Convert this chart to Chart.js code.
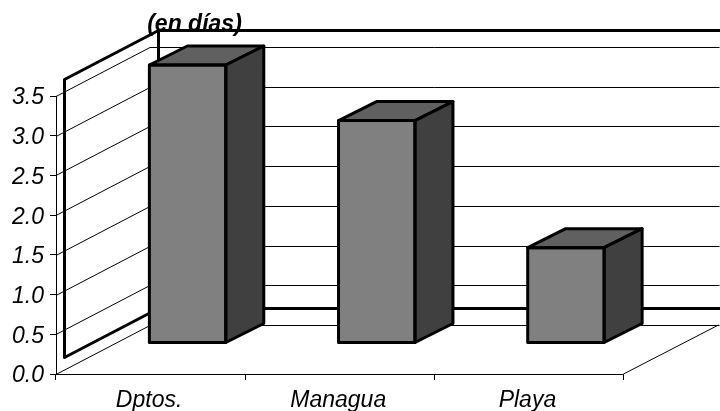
<!DOCTYPE html>
<html>
<head>
<meta charset="utf-8">
<script src="https://cdn.jsdelivr.net/npm/chart.js@4"></script>
<style>
  html, body { margin: 0; background: #fff; }
  canvas { display: block; }
</style>
</head>
<body>
<canvas id="chart" width="720" height="411"></canvas>
<script>
const categories = ["Dptos.", "Managua", "Playa"];
const dias = [3.5, 2.8, 1.2];
const yTicks = [0, 0.5, 1, 1.5, 2, 2.5, 3, 3.5];
const chartTitle = "(en días)";

// how far the 3d box is pushed back
const wallDx = 94, wallDy = -49;
const frameDx = 8.5, frameDy = -16.5;
const barDx = 37, barDy = -31;
const sideDx = 38, sideDy = -19;

const fakeDepth = {
  id: 'fakeDepth',
  beforeDatasetsDraw(chart) {
    const { ctx, scales: { x, y } } = chart;
    const left = x.left, right = x.right, zero = y.getPixelForValue(0);
    const endX = 719.5;
    ctx.save();
    ctx.strokeStyle = '#000';
    ctx.lineWidth = 1;

    // floor and gridlines on both walls
    ctx.beginPath();
    yTicks.forEach(t => {
      const py = Math.round(y.getPixelForValue(t)) + 0.5;
      ctx.moveTo(left, py);
      ctx.lineTo(left + wallDx, py + wallDy);
      ctx.lineTo(endX, py + wallDy);
    });
    ctx.moveTo(right, zero);
    ctx.lineTo(right + wallDx + 1, zero + wallDy);
    ctx.stroke();

    // thick outline of the plot
    const top = y.getPixelForValue(3.5);
    ctx.lineWidth = 3;
    ctx.lineJoin = 'round';
    ctx.beginPath();
    ctx.moveTo(720, top + wallDy + frameDy);
    ctx.lineTo(left + frameDx + wallDx, top + wallDy + frameDy);
    ctx.lineTo(left + frameDx, top + frameDy);
    ctx.lineTo(left + frameDx, zero + frameDy);
    ctx.lineTo(left + frameDx + wallDx, zero + wallDy + frameDy);
    ctx.lineTo(720, zero + wallDy + frameDy);
    ctx.moveTo(left + frameDx + wallDx, top + wallDy + frameDy);
    ctx.lineTo(left + frameDx + wallDx, zero + wallDy + frameDy);
    ctx.stroke();
    ctx.restore();
  },
  beforeDatasetDraw(chart, args) {
    const { ctx } = chart;
    ctx.save();
    ctx.translate(barDx, barDy);
  },
  afterDatasetDraw(chart, args) {
    const { ctx } = chart;
    ctx.lineWidth = 3;
    ctx.strokeStyle = '#000';
    ctx.lineJoin = 'round';
    args.meta.data.forEach(bar => {
      const l = bar.x - bar.width / 2, r = bar.x + bar.width / 2;
      const t = bar.y, b = bar.base;
      // top
      ctx.beginPath();
      ctx.moveTo(l, t);
      ctx.lineTo(l + sideDx, t + sideDy);
      ctx.lineTo(r + sideDx, t + sideDy);
      ctx.lineTo(r, t);
      ctx.closePath();
      ctx.fillStyle = '#606060';
      ctx.fill();
      ctx.stroke();
      // side
      ctx.beginPath();
      ctx.moveTo(r, t);
      ctx.lineTo(r + sideDx, t + sideDy);
      ctx.lineTo(r + sideDx, b + sideDy);
      ctx.lineTo(r, b);
      ctx.closePath();
      ctx.fillStyle = '#404040';
      ctx.fill();
      ctx.stroke();
      // front outline
      ctx.strokeRect(l, t, r - l, b - t);
    });
    ctx.restore();
  },
  afterDraw(chart) {
    const { ctx } = chart;
    ctx.save();
    ctx.font = 'italic bold 23px "Liberation Sans"';
    ctx.fillStyle = '#000';
    ctx.textAlign = 'center';
    ctx.textBaseline = 'alphabetic';
    ctx.fillText(chartTitle, 194.5, 31);
    ctx.restore();
  }
};

new Chart(document.getElementById('chart'), {
  type: 'bar',
  data: {
    labels: categories,
    datasets: [{
      data: dias,
      backgroundColor: '#808080',
      borderWidth: 0,
      barPercentage: 0.404,
      categoryPercentage: 1,
      clip: false
    }]
  },
  plugins: [fakeDepth],
  options: {
    responsive: false,
    animation: false,
    layout: { padding: { top: 96, right: 96.5, left: 0, bottom: 0 } },
    plugins: { legend: { display: false }, tooltip: { enabled: false }, title: { display: false } },
    scales: {
      x: {
        afterFit(s) { s.height = 37; },
        grid: { drawOnChartArea: false, color: '#000', tickLength: 6 },
        border: { color: '#000', width: 1 },
        ticks: {
          color: '#000',
          font: { family: '"Liberation Sans"', size: 23, style: 'italic' },
          padding: 7,
          labelOffset: -1.5,
          maxRotation: 0
        }
      },
      y: {
        min: 0,
        max: 3.5,
        afterFit(s) { s.width = 56; },
        afterBuildTicks(s) { s.ticks = yTicks.map(v => ({ value: v })); },
        grid: { drawOnChartArea: false, color: '#000', tickLength: 6 },
        border: { color: '#000', width: 1 },
        ticks: {
          color: '#000',
          font: { family: '"Liberation Sans"', size: 23, style: 'italic' },
          padding: 6,
          labelOffset: 2,
          callback: v => Number(v).toFixed(1)
        }
      }
    }
  }
});
</script>
</body>
</html>
